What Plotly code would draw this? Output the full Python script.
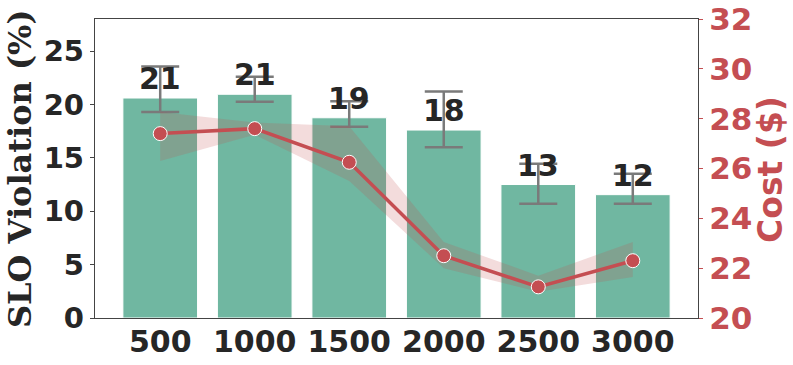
import plotly.graph_objects as go

categories = ["500", "1000", "1500", "2000", "2500", "3000"]
slo_violation = [20.6, 20.95, 18.75, 17.6, 12.5, 11.55]
slo_err_upper = [23.55, 22.6, 20.3, 21.2, 14.45, 13.5]
slo_err_lower = [19.3, 20.25, 17.9, 16.0, 10.7, 10.7]
bar_labels = ["21", "21", "19", "18", "13", "12"]
cost = [27.4, 27.6, 26.25, 22.5, 21.25, 22.3]
cost_upper = [28.27, 27.85, 27.7, 23.05, 21.7, 23.05]
cost_lower = [26.3, 27.35, 25.5, 22.0, 21.05, 21.65]

xpos = list(range(len(categories)))
GREEN = "#70b7a1"
RED = "#c44e52"
DARK = "#262626"

fig = go.Figure()
fig.add_trace(go.Bar(
    x=xpos, y=slo_violation, width=0.79,
    marker=dict(color=GREEN, line=dict(color="white", width=1)),
    error_y=dict(type="data", symmetric=False,
                 array=[u - v for u, v in zip(slo_err_upper, slo_violation)],
                 arrayminus=[v - l for v, l in zip(slo_violation, slo_err_lower)],
                 color="#7a7a7a", thickness=2.5, width=19),
    showlegend=False, yaxis="y",
))
fig.add_trace(go.Scatter(x=xpos, y=cost_lower, mode="lines", line=dict(width=0),
                         yaxis="y2", showlegend=False, hoverinfo="skip"))
fig.add_trace(go.Scatter(x=xpos, y=cost_upper, mode="lines", line=dict(width=0),
                         fill="tonexty", fillcolor="rgba(196,78,82,0.2)",
                         yaxis="y2", showlegend=False, hoverinfo="skip"))
fig.add_trace(go.Scatter(x=xpos, y=cost, mode="lines+markers",
                         line=dict(color=RED, width=3.5),
                         marker=dict(size=14, color=RED, line=dict(color="white", width=1)),
                         yaxis="y2", showlegend=False))

for x, v, t in zip(xpos, slo_violation, bar_labels):
    fig.add_annotation(x=x, y=v, text=t, showarrow=False, yanchor="bottom",
                       xref="x", yref="y", yshift=0,
                       font=dict(family="DejaVu Sans", size=30, color=DARK, weight="bold"))

# axis titles
fig.add_annotation(x=(20 - 95) / (793 - 190), y=(365 - 169 - 47) / (365 - 66),
                   xref="paper", yref="paper", text="SLO Violation (%)",
                   textangle=-90, showarrow=False, xanchor="center", yanchor="middle",
                   font=dict(family="DejaVu Serif", size=32, color=DARK, weight="bold"))
fig.add_annotation(x=1 + (770 - 698) / (793 - 190), y=(365 - 169 - 47) / (365 - 66),
                   xref="paper", yref="paper", text="Cost ($)",
                   textangle=-90, showarrow=False, xanchor="center", yanchor="middle",
                   font=dict(family="DejaVu Sans", size=33, color=RED, weight="bold"))

fig.update_layout(
    width=793, height=365,
    margin=dict(l=95, r=95, t=19, b=47, autoexpand=False),
    plot_bgcolor="white", paper_bgcolor="white",
    font=dict(family="DejaVu Sans", size=29, color=DARK, weight="bold"),
    xaxis=dict(range=[-0.69, 5.69], tickvals=xpos, ticktext=categories,
               showline=True, linecolor="#444", linewidth=1.3, mirror=True,
               ticks="", showgrid=False, zeroline=False, automargin=False,
               ticklabelstandoff=-3,
               tickfont=dict(family="DejaVu Sans", size=30, color=DARK, weight="bold")),
    yaxis=dict(range=[0, 28], tickvals=[0, 5, 10, 15, 20, 25],
               showline=True, linecolor="#444", linewidth=1.3, mirror=True,
               ticks="outside", ticklen=4, tickcolor="#444", tickwidth=1,
               showgrid=False, zeroline=False, automargin=False,
               tickfont=dict(family="DejaVu Sans", size=29, color=DARK, weight="bold")),
    yaxis2=dict(range=[20, 32], tickvals=[20, 22, 24, 26, 28, 30, 32],
                overlaying="y", side="right", showgrid=False, zeroline=False,
                ticks="outside", ticklen=4, tickcolor=RED, tickwidth=1, automargin=False,
                tickfont=dict(family="DejaVu Sans", size=31, color=RED, weight="bold")),
)

fig.write_html("out.html")
